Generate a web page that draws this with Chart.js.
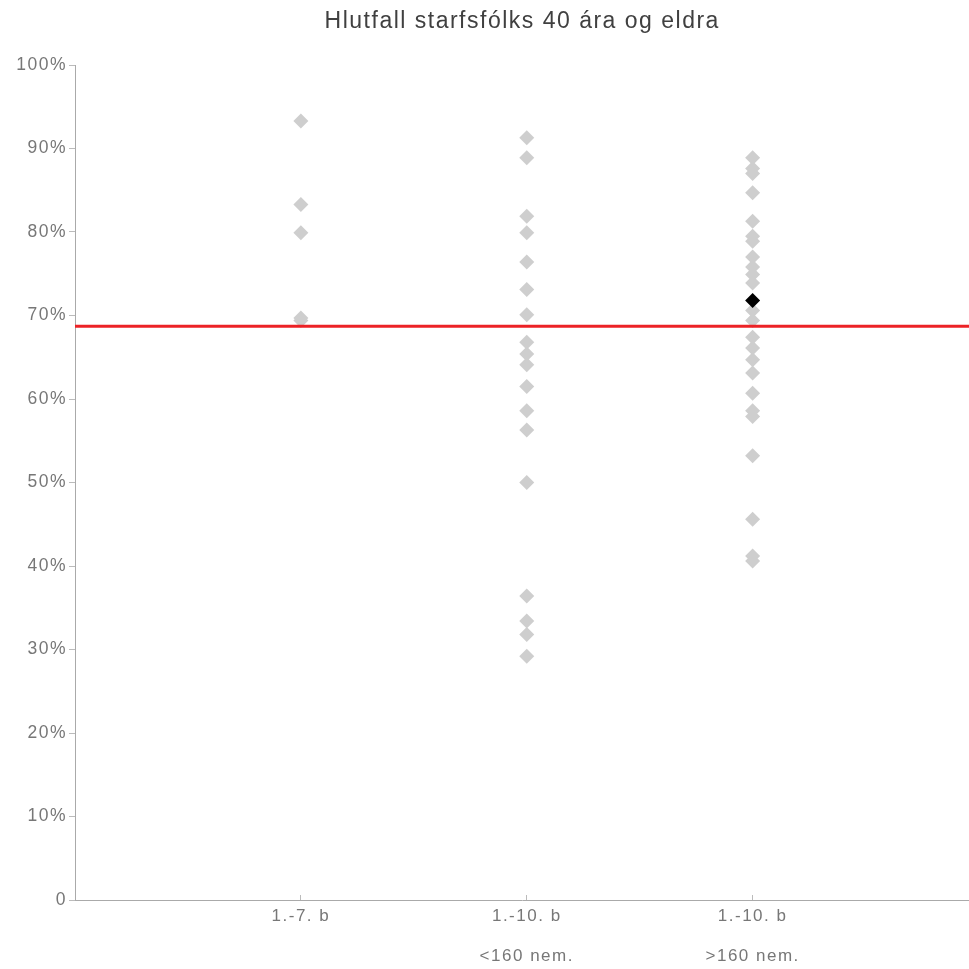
<!DOCTYPE html>
<html>
<head>
<meta charset="utf-8">
<script src="https://cdn.jsdelivr.net/npm/chart.js@4/dist/chart.umd.min.js"></script>
<style>
    html, body { margin: 0; padding: 0; background: #fff; overflow: hidden; }
    canvas { display: block; }
</style>
</head>
<body>
<!-- aðeins breiðari en glugginn: Chart.js skilur eftir pláss fyrir punkta til hægri -->
<canvas id="grafico" width="977" height="969"></canvas>
<script>
// gögn lesin af myndinni
let titill = 'Hlutfall starfsfólks 40 ára og eldra'
let flokkar = [['1.-7. b'], ['1.-10. b', '<160 nem.'], ['1.-10. b', '>160 nem.']]
let hopur1 = [93.3, 83.3, 79.9, 69.7, 69.4]
let hopur2 = [91.3, 88.9, 81.9, 79.9, 76.4, 73.1, 70.1, 66.8, 65.4, 64.1, 61.5, 58.6, 56.3, 50.0, 36.4, 33.4, 31.8, 29.2]
let hopur3 = [88.9, 87.6, 87.0, 84.7, 81.3, 79.5, 78.9, 77.0, 75.8, 74.9, 73.9, 70.6, 69.4, 67.4, 66.1, 64.7, 63.1, 60.7, 58.6, 57.9, 53.2, 45.6, 41.2, 40.6]
let valinnHopur = 3
let valinnGildi = 71.8
let medaltal = 68.7
let yTicks = [0, 10, 20, 30, 40, 50, 60, 70, 80, 90, 100]

let xMax = 3.96
let letur = '"Liberation Sans", Arial, Helvetica, sans-serif'

let grair = []
;[hopur1, hopur2, hopur3].forEach((hopur, i) => {
    hopur.forEach(v => grair.push({ x: i + 1, y: v }))
})

// breiðara letur eins og á myndinni
const stafabil = {
    id: 'stafabil',
    beforeLayout: chart => { chart.ctx.letterSpacing = '1.5px' },
    beforeDraw: chart => { chart.ctx.letterSpacing = '1.5px' }
}

const ctx = document.getElementById('grafico')

var grafico = new Chart(ctx, {
    type: 'scatter',
    plugins: [stafabil],
    data: {
        datasets: [
            {
                label: 'medaltal',
                type: 'line',
                data: [{ x: 0, y: medaltal }, { x: xMax, y: medaltal }],
                borderColor: 'rgb(236, 34, 38)',
                borderWidth: 3,
                pointRadius: 0,
                pointHoverRadius: 0,
                order: 0
            },
            {
                label: 'valinn',
                data: [{ x: valinnHopur, y: valinnGildi }],
                pointStyle: 'rectRot',
                pointRadius: 7.5,
                backgroundColor: '#000',
                borderWidth: 0,
                order: 1
            },
            {
                label: 'skolar',
                data: grair,
                pointStyle: 'rectRot',
                pointRadius: 7.5,
                backgroundColor: 'rgb(206, 206, 206)',
                borderWidth: 0,
                order: 2
            }
        ]
    },
    options: {
        responsive: false,
        animation: false,
        layout: { padding: 0 },
        plugins: {
            legend: { display: false },
            tooltip: { enabled: false },
            title: {
                display: true,
                text: titill,
                fullSize: false,
                color: '#404040',
                font: { family: letur, size: 23, weight: 'normal', lineHeight: 1.2 },
                padding: { top: 8, bottom: 29.4 }
            }
        },
        scales: {
            x: {
                type: 'linear',
                min: 0,
                max: xMax,
                afterFit: s => { s.height = 69 },
                afterBuildTicks: s => { s.ticks = flokkar.map((f, i) => ({ value: i + 1 })) },
                border: { color: '#aaa', width: 1 },
                grid: { display: true, drawOnChartArea: false, drawTicks: true, tickLength: -5, color: '#bbb' },
                ticks: {
                    color: '#777',
                    padding: 1,
                    maxRotation: 0,
                    autoSkip: false,
                    font: { family: letur, size: 17, lineHeight: 2.35 },
                    callback: v => flokkar[v - 1] || ''
                }
            },
            y: {
                min: 0,
                max: 100,
                afterFit: s => { s.width = 75 },
                afterBuildTicks: s => { s.ticks = yTicks.map(v => ({ value: v })) },
                border: { color: '#aaa', width: 1 },
                grid: { drawOnChartArea: false, tickLength: 6, color: '#bbb' },
                ticks: {
                    color: '#777',
                    padding: 2,
                    font: { family: letur, size: 17.5 },
                    callback: v => v === 0 ? '0' : v + '%'
                }
            }
        }
    }
})
</script>
</body>
</html>
